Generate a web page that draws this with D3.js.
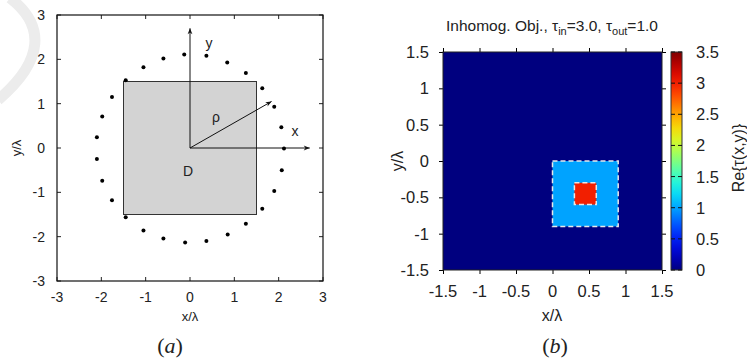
<!DOCTYPE html>
<html>
<head>
<meta charset="utf-8">
<script src="https://cdn.jsdelivr.net/npm/d3@7"></script>
<style>
  body { margin: 0; background: #fff; }
  text { font-family: "Liberation Sans", Arial, sans-serif; fill: #222; }
</style>
</head>
<body>
<div id="chart"></div>
<script>
// panel (a): receiver points around the object
var ptX = [-1.45, -1.05, -0.60, -0.13, 0.37, 0.84, 1.26, 1.63, 1.90, 2.06, 2.12, 2.07,
           1.90, 1.63, 1.26, 0.85, 0.37, -0.11, -0.60, -1.05, -1.45, -1.76, -1.98, -2.10,
           -2.10, -1.98, -1.76];
var ptY = [1.53, 1.82, 2.02, 2.11, 2.08, 1.93, 1.69, 1.35, 0.93, 0.47, -0.01, -0.50,
           -0.97, -1.37, -1.71, -1.95, -2.10, -2.13, -2.04, -1.86, -1.56, -1.18, -0.74, -0.25,
           0.24, 0.71, 1.15];
var domainA = [-3, 3];
var ticksA = [-3, -2, -1, 0, 1, 2, 3];
var squareD = [-1.5, 1.5];          // object domain D (both x and y)
var axisEnd = 2.7;                  // length of the x / y arrows
var rhoTip = [1.84, 1.05];          // end of the rho arrow

// panel (b): Re{tau(x,y)} as nested squares [x0, x1, y0, y1, value]
var domainB = [-1.5, 1.5];
var ticksB = [-1.5, -1, -0.5, 0, 0.5, 1, 1.5];
var cellsB = [
  [-1.5, 1.5, -1.5, 1.5, 0],
  [0, 0.9, -0.9, 0, 1],
  [0.3, 0.6, -0.6, -0.3, 3]
];
var cbDomain = [0, 3.5];
var cbTicks = [0, 0.5, 1, 1.5, 2, 2.5, 3, 3.5];

var width = 747, height = 360;

var svg = d3.select("#chart").append("svg")
  .attr("width", width).attr("height", height);

var defs = svg.append("defs");
defs.append("marker")
  .attr("id", "arrow")
  .attr("viewBox", "0 0 10 10")
  .attr("refX", 10).attr("refY", 5)
  .attr("markerWidth", 10).attr("markerHeight", 6)
  .attr("markerUnits", "userSpaceOnUse")
  .attr("orient", "auto")
  .append("path").attr("d", "M0,1 L10,5 L0,9 L3,5 Z").attr("fill", "#111");

// faint page artifact at top-left
svg.append("path")
  .attr("d", "M10,-2 C45,25 45,60 -2,100")
  .attr("fill", "none")
  .attr("stroke", "#ececec")
  .attr("stroke-width", 11);

////////////////////////////////////////////////////////////////////////////////
/*                        PANEL (a)                                           */
////////////////////////////////////////////////////////////////////////////////
var boxA = {left: 57, right: 323, top: 15, bottom: 281};
var xA = d3.scaleLinear().domain(domainA).range([boxA.left, boxA.right]);
var yA = d3.scaleLinear().domain(domainA).range([boxA.bottom, boxA.top]);

var gA = svg.append("g");

gA.append("rect")
  .attr("x", xA(squareD[0])).attr("y", yA(squareD[1]))
  .attr("width", xA(squareD[1]) - xA(squareD[0]))
  .attr("height", yA(squareD[0]) - yA(squareD[1]))
  .attr("fill", "#d3d3d3").attr("stroke", "#333").attr("stroke-width", 1);

// inward ticks on all four sides
function ticksInside(g, sx, sy, ticks, len) {
  ticks.forEach(function (t) {
    g.append("line").attr("x1", sx(t)).attr("x2", sx(t))
      .attr("y1", boxA.bottom).attr("y2", boxA.bottom - len).attr("stroke", "#222");
    g.append("line").attr("x1", sx(t)).attr("x2", sx(t))
      .attr("y1", boxA.top).attr("y2", boxA.top + len).attr("stroke", "#222");
    g.append("line").attr("y1", sy(t)).attr("y2", sy(t))
      .attr("x1", boxA.left).attr("x2", boxA.left + len).attr("stroke", "#222");
    g.append("line").attr("y1", sy(t)).attr("y2", sy(t))
      .attr("x1", boxA.right).attr("x2", boxA.right - len).attr("stroke", "#222");
  });
}
ticksInside(gA, xA, yA, ticksA, 4);

gA.append("rect")
  .attr("x", boxA.left).attr("y", boxA.top)
  .attr("width", boxA.right - boxA.left).attr("height", boxA.bottom - boxA.top)
  .attr("fill", "none").attr("stroke", "#111").attr("stroke-width", 1.2);

ticksA.forEach(function (t) {
  gA.append("text").attr("x", xA(t)).attr("y", 302)
    .attr("text-anchor", "middle").style("font-size", "14px").text(t);
  gA.append("text").attr("x", 45).attr("y", yA(t)).attr("dy", "0.36em")
    .attr("text-anchor", "end").style("font-size", "14px").text(t);
});

// coordinate arrows
gA.append("line")
  .attr("x1", xA(0)).attr("y1", yA(0)).attr("x2", xA(0)).attr("y2", yA(axisEnd))
  .attr("stroke", "#111").attr("marker-end", "url(#arrow)");
gA.append("line")
  .attr("x1", xA(0)).attr("y1", yA(0)).attr("x2", xA(axisEnd)).attr("y2", yA(0))
  .attr("stroke", "#111").attr("marker-end", "url(#arrow)");
gA.append("line")
  .attr("x1", xA(0)).attr("y1", yA(0)).attr("x2", xA(rhoTip[0])).attr("y2", yA(rhoTip[1]))
  .attr("stroke", "#111").attr("marker-end", "url(#arrow)");

gA.selectAll("circle.pt")
  .data(ptX)
  .enter()
  .append("circle")
  .attr("class", "pt")
  .attr("cx", function (d) { return xA(d); })
  .attr("cy", function (d, i) { return yA(ptY[i]); })
  .attr("r", 2)
  .attr("fill", "#000");

gA.append("text").attr("x", 209).attr("y", 48).attr("text-anchor", "middle")
  .style("font-size", "14px").text("y");
gA.append("text").attr("x", 295).attr("y", 136).attr("text-anchor", "middle")
  .style("font-size", "14px").text("x");
gA.append("text").attr("x", 216).attr("y", 122).attr("text-anchor", "middle")
  .style("font-size", "14px").text("ρ");
gA.append("text").attr("x", 188).attr("y", 176).attr("text-anchor", "middle")
  .style("font-size", "14px").text("D");

gA.append("text").attr("x", 190).attr("y", 321).attr("text-anchor", "middle")
  .style("font-size", "13px").text("x/λ");
gA.append("text").attr("transform", "translate(21,148) rotate(-90)")
  .attr("text-anchor", "middle").style("font-size", "13px").text("y/λ");

var capA = gA.append("text").attr("x", 170).attr("y", 353).attr("text-anchor", "middle")
  .style("font-family", "'Liberation Serif', 'Times New Roman', serif").style("font-size", "22px");
capA.append("tspan").text("(");
capA.append("tspan").style("font-style", "italic").text("a");
capA.append("tspan").text(")");

////////////////////////////////////////////////////////////////////////////////
/*                        PANEL (b)                                           */
////////////////////////////////////////////////////////////////////////////////
var boxB = {left: 443, right: 662, top: 52, bottom: 270};
var xB = d3.scaleLinear().domain(domainB).range([boxB.left, boxB.right]);
var yB = d3.scaleLinear().domain(domainB).range([boxB.bottom, boxB.top]);
var colorB = d3.scaleSequential(d3.interpolateRgbBasis([
  "#00007f", "#0000ff", "#007fff", "#00ffff", "#7fff7f", "#ffff00", "#ff7f00", "#ff0000", "#7f0000"
])).domain(cbDomain);

var gB = svg.append("g");

gB.selectAll("rect.cell")
  .data(cellsB)
  .enter()
  .append("rect")
  .attr("class", "cell")
  .attr("x", function (d) { return xB(d[0]); })
  .attr("y", function (d) { return yB(d[3]); })
  .attr("width", function (d) { return xB(d[1]) - xB(d[0]); })
  .attr("height", function (d) { return yB(d[2]) - yB(d[3]); })
  .attr("fill", function (d) { return colorB(d[4]); });

gB.selectAll("rect.edge")
  .data(cellsB.slice(1))
  .enter()
  .append("rect")
  .attr("class", "edge")
  .attr("x", function (d) { return xB(d[0]); })
  .attr("y", function (d) { return yB(d[3]); })
  .attr("width", function (d) { return xB(d[1]) - xB(d[0]); })
  .attr("height", function (d) { return yB(d[2]) - yB(d[3]); })
  .attr("fill", "none")
  .attr("stroke", "#e8e8e8")
  .attr("stroke-width", 1.5)
  .attr("stroke-dasharray", "5,3");

gB.append("g").attr("transform", "translate(0," + boxB.bottom + ")")
  .call(d3.axisBottom(xB).tickValues(ticksB).tickSize(4).tickFormat(""))
  .call(function (g) { g.select(".domain").remove(); });
gB.append("g").attr("transform", "translate(0," + boxB.top + ")")
  .call(d3.axisTop(xB).tickValues(ticksB).tickSize(4).tickFormat(""))
  .call(function (g) { g.select(".domain").remove(); });
gB.append("g").attr("transform", "translate(" + boxB.left + ",0)")
  .call(d3.axisLeft(yB).tickValues(ticksB).tickSize(4).tickFormat(""))
  .call(function (g) { g.select(".domain").remove(); });
gB.append("g").attr("transform", "translate(" + boxB.right + ",0)")
  .call(d3.axisRight(yB).tickValues(ticksB).tickSize(4).tickFormat(""))
  .call(function (g) { g.select(".domain").remove(); });

gB.append("rect")
  .attr("x", boxB.left).attr("y", boxB.top)
  .attr("width", boxB.right - boxB.left).attr("height", boxB.bottom - boxB.top)
  .attr("fill", "none").attr("stroke", "#222").attr("stroke-width", 1);

ticksB.forEach(function (t) {
  gB.append("text").attr("x", xB(t)).attr("y", 297)
    .attr("text-anchor", "middle").style("font-size", "16.5px").text(t);
  gB.append("text").attr("x", 429).attr("y", yB(t)).attr("dy", "0.36em")
    .attr("text-anchor", "end").style("font-size", "16.5px").text(t);
});

gB.append("text").attr("x", 552).attr("y", 321).attr("text-anchor", "middle")
  .style("font-size", "16px").text("x/λ");
gB.append("text").attr("transform", "translate(403,161) rotate(-90)")
  .attr("text-anchor", "middle").style("font-size", "16px").text("y/λ");

var title = gB.append("text").attr("x", 552).attr("y", 31).attr("text-anchor", "middle")
  .style("font-size", "15.5px");
title.append("tspan").text("Inhomog. Obj., τ");
title.append("tspan").attr("dy", 4).style("font-size", "11px").text("in");
title.append("tspan").attr("dy", -4).text("=3.0, τ");
title.append("tspan").attr("dy", 4).style("font-size", "11px").text("out");
title.append("tspan").attr("dy", -4).text("=1.0");

// colour bar
var cb = {left: 671, right: 682};
var cbScale = d3.scaleLinear().domain(cbDomain).range([boxB.bottom, boxB.top]);
var grad = defs.append("linearGradient").attr("id", "jet")
  .attr("x1", "0").attr("y1", "1").attr("x2", "0").attr("y2", "0");
d3.range(0, 1.0001, 0.05).forEach(function (f) {
  grad.append("stop").attr("offset", f)
    .attr("stop-color", colorB(cbDomain[0] + f * (cbDomain[1] - cbDomain[0])));
});
gB.append("rect")
  .attr("x", cb.left).attr("y", boxB.top)
  .attr("width", cb.right - cb.left).attr("height", boxB.bottom - boxB.top)
  .attr("fill", "url(#jet)").attr("stroke", "#333").attr("stroke-width", 1);
cbTicks.forEach(function (t) {
  gB.append("line").attr("x1", cb.left).attr("x2", cb.left + 4)
    .attr("y1", cbScale(t)).attr("y2", cbScale(t)).attr("stroke", "#111");
  gB.append("line").attr("x1", cb.right - 4).attr("x2", cb.right)
    .attr("y1", cbScale(t)).attr("y2", cbScale(t)).attr("stroke", "#111");
  gB.append("text").attr("x", 696).attr("y", cbScale(t)).attr("dy", "0.36em")
    .style("font-size", "16.5px").text(t);
});
gB.append("text").attr("transform", "translate(744,158) rotate(-90)")
  .attr("text-anchor", "middle").style("font-size", "16px").text("Re{τ(x,y)}");

var capB = gB.append("text").attr("x", 555).attr("y", 353).attr("text-anchor", "middle")
  .style("font-family", "'Liberation Serif', 'Times New Roman', serif").style("font-size", "22px");
capB.append("tspan").text("(");
capB.append("tspan").style("font-style", "italic").text("b");
capB.append("tspan").text(")");
</script>
</body>
</html>
